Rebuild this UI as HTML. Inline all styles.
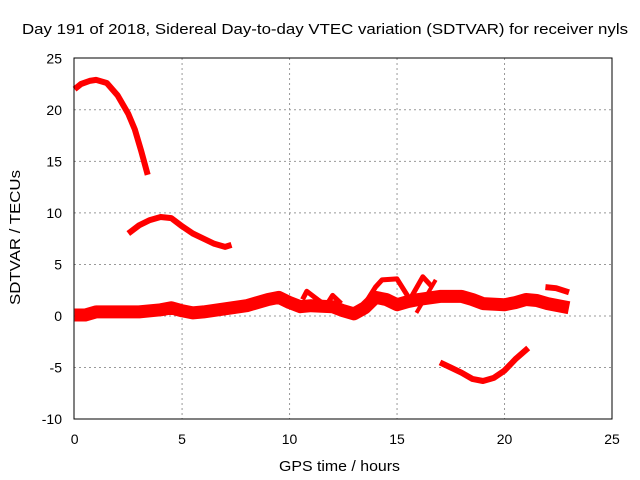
<!DOCTYPE html>
<html><head><meta charset="utf-8"><style>
body{margin:0;background:#fff}
svg{display:block;font-family:"Liberation Sans",sans-serif}
</style></head><body>
<svg id="c" width="640" height="480">
<text x="22" y="34" font-size="15" textLength="606" lengthAdjust="spacingAndGlyphs">Day 191 of 2018, Sidereal Day-to-day VTEC variation (SDTVAR) for receiver nyls</text>
<text x="279" y="471" font-size="15" textLength="121" lengthAdjust="spacingAndGlyphs">GPS time / hours</text>
<text transform="translate(20,305) rotate(-90)" font-size="15" textLength="135" lengthAdjust="spacingAndGlyphs">SDTVAR / TECUs</text>
<g id="grid"></g><g id="series"></g>
<rect x="74" y="58" width="538" height="361" fill="none" stroke="#000" stroke-width="1"/>
<g id="ticks"></g>
</svg>
<script>
const xTicks=[0,5,10,15,20,25];
const yTicks=[-10,-5,0,5,10,15,20,25];
const arcTop=[[0,22],[0.3,22.5],[0.7,22.8],[1,22.9],[1.5,22.6],[2,21.4],[2.5,19.6],[2.8,18.1],[3.1,16],[3.4,13.7]];
const arcMid=[[2.5,8],[3,8.8],[3.5,9.3],[4,9.6],[4.5,9.5],[5,8.7],[5.5,8],[6,7.5],[6.5,7],[7,6.7],[7.3,6.9]];
const arcNeg=[[17,-4.5],[17.5,-5],[18,-5.5],[18.5,-6.1],[19,-6.3],[19.5,-6],[20,-5.3],[20.5,-4.2],[21.1,-3.1]];
const band=[[0,0.1],[0.5,0.1],[1,0.4],[2,0.4],[3,0.4],[4,0.6],[4.5,0.8],[5,0.5],[5.5,0.3],[6,0.4],[7,0.7],[8,1.0],[8.5,1.3],[9,1.6],[9.5,1.8],[10,1.3],[10.5,0.9],[11,1.0],[12,0.9],[12.5,0.5],[13,0.2],[13.5,0.8],[14,1.8],[14.5,1.6],[15,1.1],[15.5,1.4],[16,1.6],[17,1.9],[18,1.9],[18.5,1.6],[19,1.2],[20,1.1],[20.5,1.3],[21,1.6],[21.5,1.5],[22,1.2],[23,0.8]];
const spike1=[[13.3,0.5],[14,2.8],[14.3,3.5],[15,3.6],[15.6,1.6],[16.2,3.8],[16.6,2.9]];
const spike2=[[15.9,0.3],[16.8,3.5]];
const spike3=[[10.6,1.6],[10.8,2.4],[11.3,1.6],[11.7,1.0],[12,2.0],[12.4,1.2]];
const tailSeg=[[21.9,2.8],[22.4,2.7],[23,2.3]];
const sx=v=>74.6+v*(612-74.6)/25;
const sy=v=>316-v*10.31;
const NS='http://www.w3.org/2000/svg';
const g=document.getElementById('grid'),tk=document.getElementById('ticks'),se=document.getElementById('series');
function mk(t,a,p){const e=document.createElementNS(NS,t);for(const k in a)e.setAttribute(k,a[k]);p.appendChild(e);return e;}
xTicks.forEach(v=>{
 if(v>0&&v<25){const l=mk('line',{x1:sx(v),x2:sx(v),y1:58,y2:419,stroke:'#999','stroke-dasharray':'2,3'},g);
 
 }
 const t=mk('text',{x:sx(v),y:444,'font-size':14,'text-anchor':'middle'},tk);t.textContent=v;
 
 
});
yTicks.forEach(v=>{
 if(v>-10&&v<25){const l=mk('line',{x1:74,x2:612,y1:sy(v),y2:sy(v),stroke:'#999','stroke-dasharray':'2,3'},g);
 
 }
 const t=mk('text',{x:62,y:sy(v)+5,'font-size':14,'text-anchor':'end'},tk);t.textContent=v;
 
 
});
function path(arr,w,name){
 const d=arr.map((p,i)=>(i?'L':'M')+sx(p[0]).toFixed(1)+','+sy(p[1]).toFixed(1)).join('');
 const e=mk('path',{d:d,fill:'none',stroke:'#f00','stroke-width':w,'stroke-linejoin':'round','stroke-linecap':'butt'},se);
 
 
}
path(arcTop,6,'series-arc-top');
path(arcMid,6,'series-arc-mid');
path(arcNeg,6,'series-arc-negative');
path(band,13,'series-main-band');
path(spike1,5,'series-spike-1');
path(spike2,4,'series-spike-2');
path(spike3,5,'series-spike-3');
path(tailSeg,6,'series-tail-segment');
</script>
</body></html>
